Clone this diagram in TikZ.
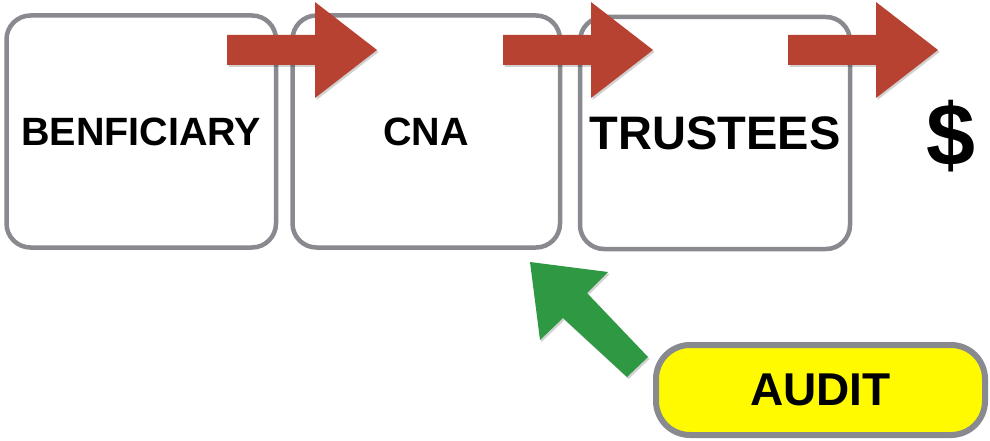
\documentclass[tikz,border=0pt]{standalone}
\usepackage{fontspec}
\setmainfont{Liberation Sans}
\definecolor{boxgray}{RGB}{136,138,143}
\definecolor{arrowred}{RGB}{184,66,50}
\definecolor{arrowgreen}{RGB}{46,152,66}
\definecolor{audityellow}{RGB}{255,250,0}
\begin{document}
\begin{tikzpicture}[x=1pt,y=-1pt,
  stagebox/.style={draw=boxgray, line width=4.5pt, fill=white, rounded corners=24pt,
    minimum height=232pt, inner sep=0pt},
  stagetext/.style={font=\bfseries\fontsize{39.5}{41}\selectfont},
  auditbox/.style={draw=boxgray, line width=6pt, fill=audityellow, rounded corners=34pt,
    minimum width=329pt, minimum height=90pt, inner sep=0pt,
    font=\bfseries\fontsize{46}{48}\selectfont},
  redarrow/.style={fill=arrowred},
  greenarrow/.style={fill=arrowgreen},
  arrowshadow/.style={fill=black, opacity=0.18}]
\useasboundingbox (0,0) rectangle (990,441);
% stage boxes
\node[stagebox, minimum width=269.5pt, stagetext] (ben) at (141.25,131.5) {BENFICIARY};
\node[stagebox, minimum width=267.5pt, stagetext] (cna) at (426.25,131.5) {CNA};
\node[stagebox, minimum width=270pt, stagetext, font=\bfseries\fontsize{47}{49}\selectfont] (tru) at (715,133) {TRUSTEES};
\node[font=\bfseries\fontsize{88}{90}\selectfont, inner sep=0pt] (dollar) at (950.5,136) {\$};
% audit box
\node[auditbox] (audit) at (820.5,390) {AUDIT};
% red arrows
\foreach \x in {227,503,788}{
  \fill[arrowshadow] ([shift={(1.5,2)}]\x,35) -- ++(88,0) -- ++(0,-33) -- ++(62,48) -- ++(-62,48) -- ++(0,-33) -- ++(-88,0) -- cycle;
  \fill[redarrow] (\x,35) -- ++(88,0) -- ++(0,-33) -- ++(62,48) -- ++(-62,48) -- ++(0,-33) -- ++(-88,0) -- cycle;
}
% green arrow
\fill[arrowshadow] ([shift={(1.5,2)}]530,262) -- ([shift={(1.5,2)}]608,272) -- ([shift={(1.5,2)}]587,293) -- ([shift={(1.5,2)}]648,357) -- ([shift={(1.5,2)}]627,377) -- ([shift={(1.5,2)}]563,318) -- ([shift={(1.5,2)}]540,340) -- cycle;
\fill[greenarrow] (530,262) -- (608,272) -- (587,293) -- (648,357) -- (627,377) -- (563,318) -- (540,340) -- cycle;
\end{tikzpicture}
\end{document}
